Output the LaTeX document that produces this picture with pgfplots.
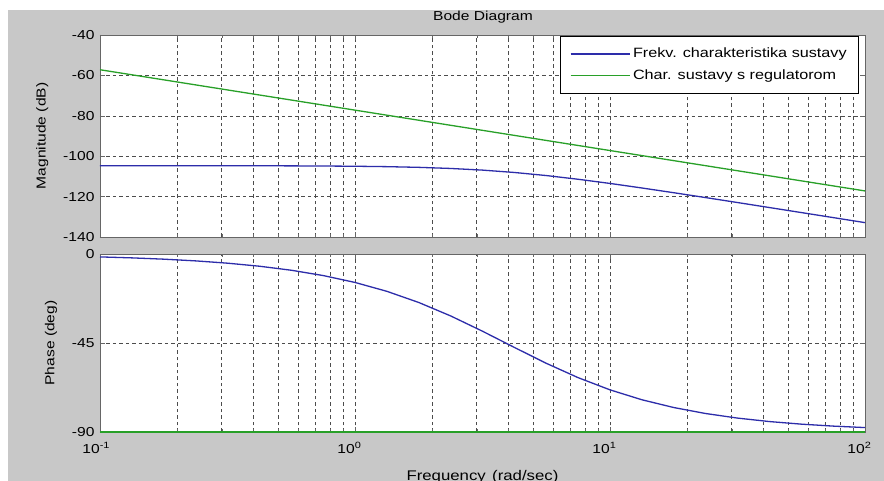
\documentclass[border=0pt]{standalone}
\usepackage{pgfplots}
\pgfplotsset{compat=1.18}
\usepackage{fontspec}
\setmainfont[FakeStretch=1.2]{Liberation Sans}
\definecolor{mblue}{RGB}{45,45,170}
\definecolor{mgreen}{RGB}{40,160,40}
\definecolor{figgray}{RGB}{200,200,200}
\pgfplotstableread{
w mag ph
0.1 -104.70 -1.469
0.13335 -104.71 -1.958
0.17783 -104.71 -2.611
0.23714 -104.72 -3.480
0.31623 -104.73 -4.636
0.42170 -104.75 -6.171
0.56234 -104.79 -8.205
0.74989 -104.86 -10.884
1.0 -104.98 -14.381
1.33352 -105.18 -18.87
1.77828 -105.52 -24.51
2.37137 -106.07 -31.30
3.16228 -106.89 -39.04
4.21697 -108.06 -47.24
5.62341 -109.58 -55.26
7.49894 -111.42 -62.52
10.0 -113.49 -68.69
13.3352 -115.74 -73.70
17.7828 -118.08 -77.63
23.7137 -120.49 -80.66
31.6228 -122.94 -82.97
42.1697 -125.42 -84.72
56.2341 -127.90 -86.03
74.9894 -130.39 -87.02
100.0 -132.89 -87.77
}\plant
\pgfplotstableread{
w mag ph
0.1 -57.2 -90
1.0 -77.2 -90
10.0 -97.2 -90
100.0 -117.2 -90
}\ctrl
\begin{document}
\fontsize{13}{15}\selectfont
\begin{tikzpicture}[font=\fontsize{13}{15}\selectfont]
\fill[white] (0pt,0pt) rectangle (884pt,481pt);
\fill[figgray] (8pt,0pt) rectangle (884pt,471pt);
\useasboundingbox (0pt,0pt) rectangle (884pt,481pt);
\node at (483pt,464pt) {Bode Diagram};
\begin{axis}[
  xmode=log, xmin=0.1, xmax=100,
  scale only axis, anchor=south west,
  width=765pt, height=202pt, at={(100pt,244pt)},
  axis background/.style={fill=white},
  axis line style={black!60},
  tick style={black!60},
  major tick length=5pt, minor tick length=3pt,
  grid=both,
  major grid style={black!70, dash pattern=on 3.5pt off 3pt, line width=0.5pt},
  minor grid style={black!70, dash pattern=on 3.5pt off 3pt, line width=0.5pt},
  xtick={0.1,1,10,100},
  /pgf/number format/assume math mode=true,
  yticklabel style={xshift=-1pt},
  ymin=-140, ymax=-40, ytick={-140,-120,-100,-80,-60,-40},
  xticklabels={},
  ylabel={Magnitude (dB)},
  ylabel style={yshift=6pt},
  legend style={at={(0.992,0.995)}, anchor=north east, draw=black, fill=white,
    inner xsep=10pt, inner ysep=7pt, font=\fontsize{13.5}{15}\selectfont,
    /tikz/every row/.append style={},
    nodes={inner ysep=5pt}},
  legend cell align=left,
]
\addplot[mblue, line width=1.3pt, forget plot] table[x=w,y=mag] {\plant};
\addplot[mgreen, line width=1.3pt, forget plot] table[x=w,y=mag] {\ctrl};
\addlegendimage{mblue, line width=1.3pt, xscale=3.5}
\addlegendentry{Frekv. charakteristika sustavy}
\addlegendimage{mgreen, line width=1.3pt, xscale=3.5}
\addlegendentry{Char. sustavy s regulatorom}
\end{axis}
\begin{axis}[
  xmode=log, xmin=0.1, xmax=100,
  scale only axis, anchor=south west,
  width=765pt, height=178pt, at={(100pt,49pt)},
  axis background/.style={fill=white},
  axis line style={black!60},
  tick style={black!60},
  major tick length=5pt, minor tick length=3pt,
  grid=both,
  major grid style={black!70, dash pattern=on 3.5pt off 3pt, line width=0.5pt},
  minor grid style={black!70, dash pattern=on 3.5pt off 3pt, line width=0.5pt},
  xtick={0.1,1,10,100},
  /pgf/number format/assume math mode=true,
  yticklabel style={xshift=-1pt},
  xticklabel style={anchor=north east, inner xsep=0pt, yshift=-6pt},
  ymin=-90, ymax=0, ytick={-90,-45,0},
  xticklabels={10\rlap{\textsuperscript{-1}},10\rlap{\textsuperscript{0}},10\rlap{\textsuperscript{1}},10\rlap{\textsuperscript{2}}},
  ylabel={Phase (deg)},
  ylabel style={yshift=6pt},
  xlabel={Frequency\hspace{0.45em}(rad/sec)},
  xlabel style={yshift=-8pt, font=\fontsize{14}{16}\selectfont},
  clip=false,
]
\addplot[mblue, line width=1.3pt] table[x=w,y=ph] {\plant};
\addplot[mgreen, line width=1.3pt] table[x=w,y=ph] {\ctrl};
\end{axis}
\end{tikzpicture}
\end{document}
